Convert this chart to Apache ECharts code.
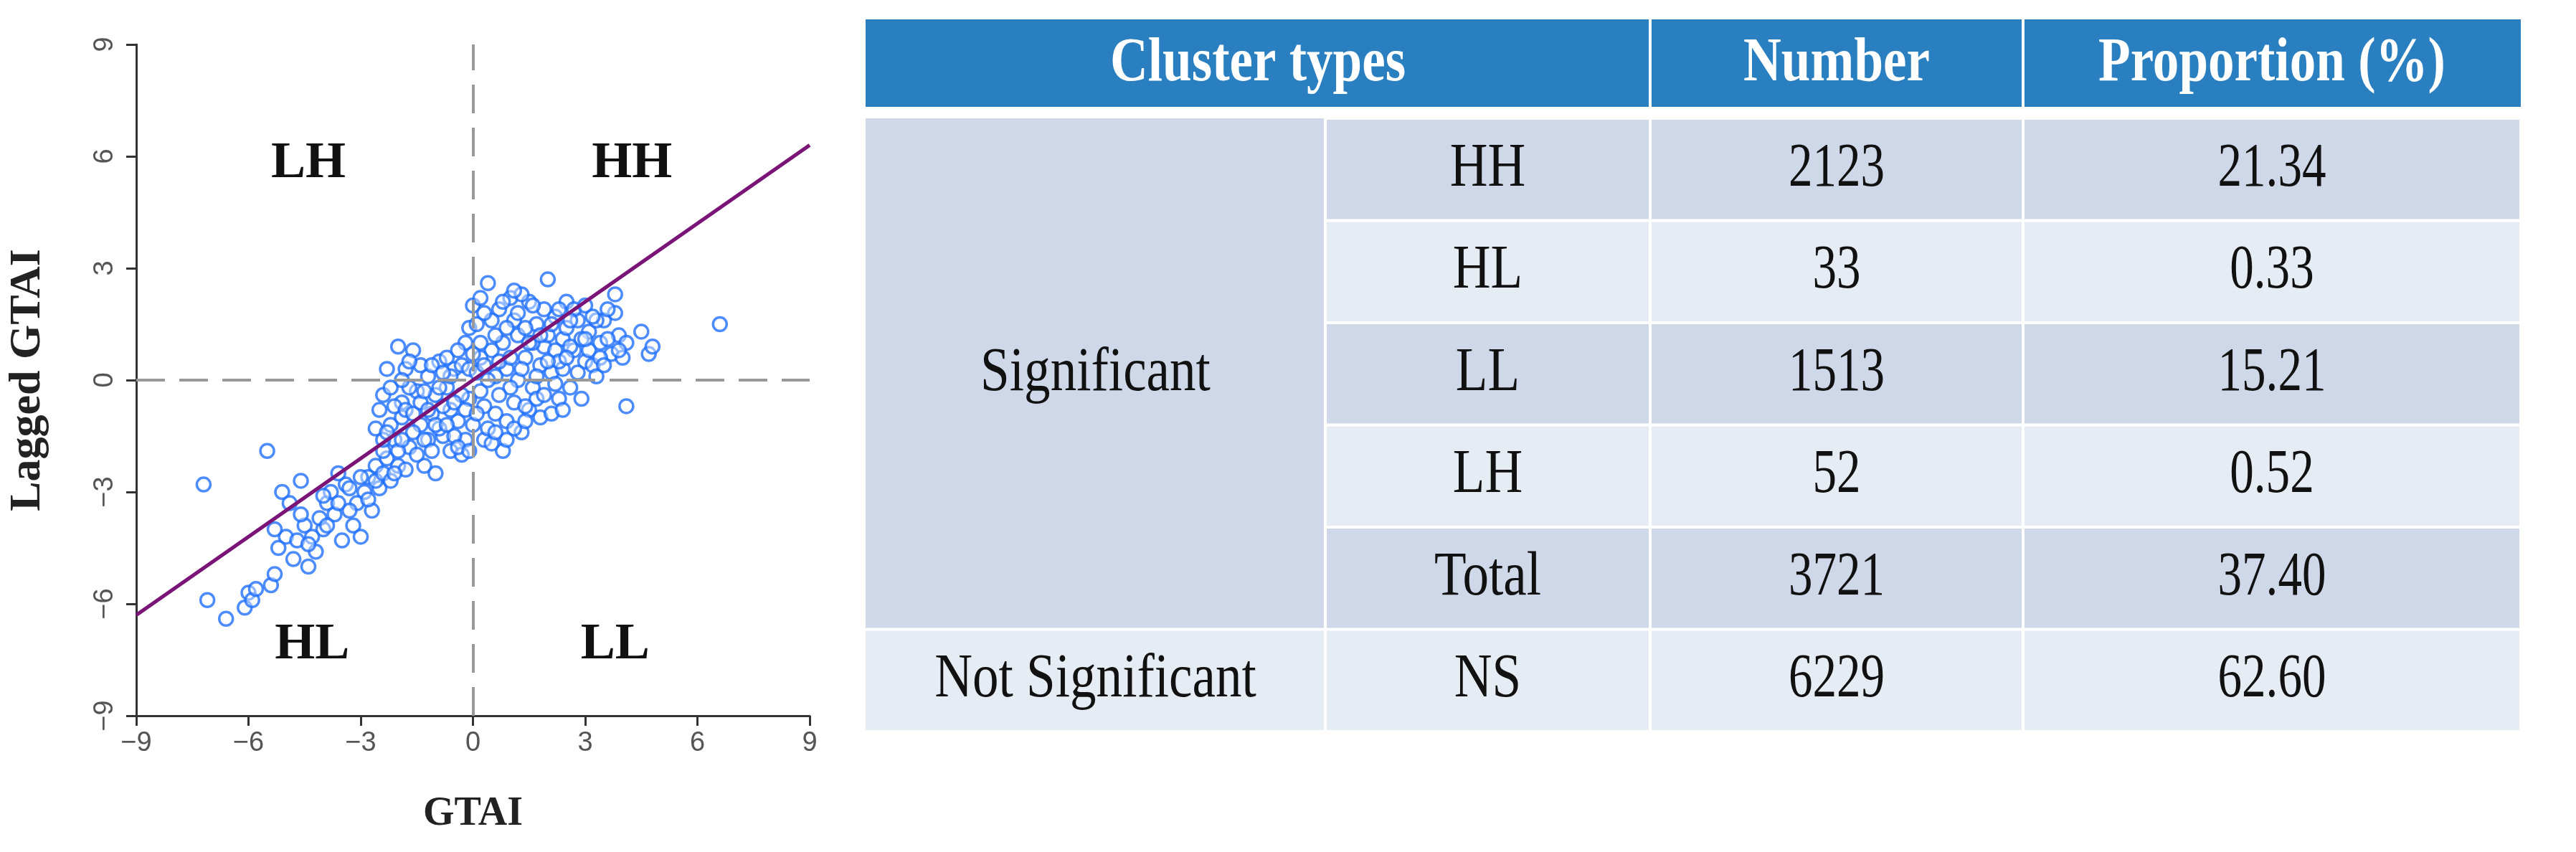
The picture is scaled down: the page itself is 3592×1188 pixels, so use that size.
<!DOCTYPE html>
<html><head><meta charset="utf-8">
<script src="https://cdn.jsdelivr.net/npm/echarts@6/dist/echarts.min.js"></script>
<style>html,body{margin:0;padding:0;background:#fff}#c{width:3592px;height:1188px}</style>
</head><body><div id="c"></div>
<script>
const points = [
[-7.2,-2.8],[-7.1,-5.9],[-6.6,-6.4],[-6.1,-6.1],[-6.0,-5.7],[-5.9,-5.9],[-5.8,-5.6],[-5.5,-1.9],[-5.4,-5.5],[-5.3,-5.2],[-5.1,-3.0],[-5.0,-4.2],[-4.9,-3.3],[-4.7,-4.3],[-4.6,-2.7],[-4.5,-3.9],[-4.4,-5.0],[-4.2,-4.6],[-4.0,-4.0],[-3.9,-3.3],[-3.7,-3.6],[-3.5,-4.3],[-3.4,-2.8],[-3.2,-3.9],[-3.0,-4.2],[-2.9,-3.0],[-2.7,-3.5],[-2.6,-2.3],[-5.2,-4.5],[-4.8,-4.8],[-4.3,-4.2],[-3.8,-3.0],[-3.6,-2.5],[-3.1,-3.3],[-2.8,-2.6],[-5.3,-4.0],[-4.1,-3.7],[-3.3,-3.5],[-2.5,-2.9],
[-4.6,-3.6],[-4.0,-3.1],[-3.6,-3.3],[-3.3,-2.9],[-3.0,-2.6],[-2.8,-3.2],[-2.6,-2.7],[-2.4,-2.5],[-2.3,-2.1],[-2.2,-2.7],[-2.0,-2.3],[-1.8,-2.4],[-2.4,-1.9],[-2.1,-1.6],[-3.9,-3.9],[-4.4,-4.4],
[-2.4,-0.4],[-2.3,0.3],[-2.2,-1.2],[-2.1,-2.5],[-2.0,0.9],[-1.9,-0.6],[-1.8,0.3],[-1.7,-1.8],[-1.6,0.8],[-1.5,-0.3],[-1.4,-1.2],[-1.3,-2.3],[-1.2,0.1],[-1.1,-0.9],[-1.0,-2.5],[-0.9,0.5],[-0.8,-1.5],[-0.7,-0.2],[-0.6,-1.9],[-0.5,0.3],[-0.4,-1.1],[-0.3,-2.0],[-0.2,1.0],[-0.1,-0.5],[0.0,2.0],[0.0,-1.2],
[-2.4,-1.6],[-2.2,-0.2],[-2.0,-1.9],[-1.9,-1.0],[-1.7,-0.2],[-1.5,-2.0],[-1.4,0.4],[-1.2,-1.6],[-1.0,-0.4],[-0.9,-1.3],[-0.7,0.6],[-0.6,-0.8],[-0.4,0.8],[-0.3,-0.4],[-0.2,-1.6],[-0.1,1.4],[-2.6,-1.3],[-1.6,-1.4],[-1.1,0.4],[-0.5,-1.5],
[-2.5,-0.8],[-2.3,-1.4],[-2.1,-0.7],[-1.9,-1.6],[-1.8,-0.8],[-1.7,0.5],[-1.6,-0.9],[-1.4,-0.6],[-1.3,-1.6],[-1.2,-0.8],[-1.1,-1.9],[-1.0,-1.2],[-0.9,-0.2],[-0.8,-0.7],[-0.7,-1.2],[-0.6,0.1],[-0.5,-0.6],[-0.4,-1.8],[-0.3,0.4],[-0.2,-0.8],[-0.1,0.3],[-0.1,-1.9],[-0.8,0.2],[-1.3,-0.3],[-1.9,0.0],
[0.1,1.5],[0.2,-0.3],[0.3,-1.6],[0.4,2.6],[0.5,0.8],[0.6,-0.9],[0.7,1.9],[0.8,-1.9],[0.9,0.3],[1.0,2.2],[1.1,-0.6],[1.2,1.2],[1.3,-1.4],[1.4,0.6],[1.5,2.1],[1.6,-0.2],[1.7,1.5],[1.8,-1.0],[1.9,0.9],[2.0,2.7],[2.1,0.2],[2.2,1.7],[2.3,-0.5],[2.4,1.1],[2.5,2.1],[2.6,-0.2],[2.7,0.8],[2.8,1.6],[2.9,-0.5],[3.0,0.5],[3.1,1.3],[3.2,0.4],[3.4,1.0],[3.5,1.6],[3.7,0.7],[3.8,2.3],[3.9,1.2],[4.0,0.6],[4.1,-0.7],[4.5,1.3],[4.7,0.7],[4.8,0.9],[6.6,1.5],
[0.1,0.2],[0.2,1.0],[0.3,-0.7],[0.5,1.6],[0.6,0.1],[0.8,1.0],[0.9,-1.1],[1.1,1.6],[1.2,0.0],[1.3,2.3],[1.5,-0.8],[1.6,1.0],[1.8,0.4],[1.9,1.9],[2.1,-0.9],[2.2,0.8],[2.4,0.3],[2.5,1.4],[2.7,1.9],[2.9,1.1],[3.1,0.8],[3.3,1.6],[3.6,1.1],[3.8,1.8],[4.1,1.0],[0.4,-1.3],[0.7,0.5],[1.0,-0.2],[1.4,1.4],[1.7,-0.5],[2.0,1.2],[2.3,0.5],[2.6,0.9],[3.0,2.0],[3.4,0.6],
[0.1,-0.9],[0.2,0.6],[0.3,1.8],[0.4,0.0],[0.5,-1.7],[0.6,1.2],[0.7,-0.4],[0.8,2.1],[0.9,1.4],[1.0,0.6],[1.1,-1.3],[1.2,1.8],[1.3,0.3],[1.4,-0.7],[1.5,1.0],[1.6,2.0],[1.7,0.1],[1.8,1.2],[1.9,-0.4],[2.0,0.5],[2.1,1.5],[2.2,-0.1],[2.3,1.9],[2.4,-0.8],[2.5,0.6],[2.6,1.6],[2.8,0.2],[3.0,1.1],[3.2,1.7],[3.3,0.1],[3.5,0.4],[3.6,1.9],[3.9,0.8],[0.2,2.2],[0.9,-1.6],[1.1,2.4],[0.0,0.7],[0.3,0.4],[1.4,-1.1],[0.6,-1.4]
];
const regression = [[-9,-6.3],[9,6.3]];
const quadLabels = [{name:'LH',coord:[-4.4,5.8]},{name:'HH',coord:[4.25,5.8]},{name:'HL',coord:[-4.3,-7.1]},{name:'LL',coord:[3.8,-7.1]}];

const headers = ['Cluster types','Number','Proportion (%)'];
const groups = ['Significant','Significant','Significant','Significant','Significant','Not Significant'];
const types = ['HH','HL','LL','LH','Total','NS'];
const numbers = ['2123','33','1513','52','3721','6229'];
const proportions = ['21.34','0.33','15.21','0.52','37.40','62.60'];

const colX = [1207,1848,2301,2821,3515];
const headTop = 27, headBot = 149, bodyTop = 165, rowH = 142.5;
const dark = '#cfd8e8', light = '#e6ecf4', headC = '#2a7fc0';
const tf = '"Liberation Serif", serif';
const g = [];
function txt(x,y,s,font,color,sx){
  g.push({type:'text',x:x,y:y,scaleX:sx||0.8,style:{text:s,fill:color,font:font,align:'center',verticalAlign:'middle'}});
}
g.push({type:'rect',shape:{x:colX[0],y:headTop,width:colX[4]-colX[0],height:headBot-headTop},style:{fill:headC}});
const hx=[[colX[0],colX[2]],[colX[2],colX[3]],[colX[3],colX[4]]];
headers.forEach((h,i)=>{
  if(i>0) g.push({type:'rect',shape:{x:hx[i][0]-2,y:headTop,width:4,height:headBot-headTop},style:{fill:'#fff'}});
  txt((hx[i][0]+hx[i][1])/2,(headTop+headBot)/2+2,h,'bold 86px '+tf,'#fff',0.85);
});
g.push({type:'rect',shape:{x:colX[0],y:bodyTop,width:colX[1]-colX[0]-2,height:rowH*5-2},style:{fill:dark}});
txt((colX[0]+colX[1])/2,bodyTop+rowH*2.5,groups[0],'86px '+tf,'#111',0.85);
g.push({type:'rect',shape:{x:colX[0],y:bodyTop+rowH*5+2,width:colX[1]-colX[0]-2,height:rowH-4},style:{fill:light}});
txt((colX[0]+colX[1])/2,bodyTop+rowH*5.5,groups[5],'86px '+tf,'#111',0.85);
types.forEach((t,r)=>{
  const y=bodyTop+rowH*r;
  const fill = r%2===0?dark:light;
  const vals=[t,numbers[r],proportions[r]];
  for(let c=1;c<4;c++){
    g.push({type:'rect',shape:{x:colX[c]+2,y:y+2,width:colX[c+1]-colX[c]-4,height:rowH-4},style:{fill:fill}});
    txt((colX[c]+colX[c+1])/2,y+rowH/2,vals[c-1],'86px '+tf,'#111',c===1?0.85:0.78);
  }
});

const chart = echarts.init(document.getElementById('c'));
chart.setOption({
  backgroundColor:'#fff',
  animation:false,
  grid:{left:190,top:62,width:939,height:936},
  xAxis:{type:'value',min:-9,max:9,interval:3,name:'GTAI',nameLocation:'middle',nameGap:110,
    nameTextStyle:{fontFamily:tf,fontWeight:'bold',fontSize:56,color:'#222'},
    axisLine:{onZero:false,lineStyle:{color:'#333',width:3}},axisTick:{length:14,lineStyle:{color:'#333',width:3}},
    axisLabel:{fontSize:38,color:'#555',margin:20,fontFamily:'"Liberation Sans"',formatter:v=>String(v).replace('-','\u2212')},splitLine:{show:false}},
  yAxis:{type:'value',min:-9,max:9,interval:3,name:'Lagged GTAI',nameLocation:'middle',nameGap:120,
    nameTextStyle:{fontFamily:tf,fontWeight:'bold',fontSize:62,color:'#222'},
    axisLine:{onZero:false,lineStyle:{color:'#333',width:3}},axisTick:{length:14,lineStyle:{color:'#333',width:3}},
    axisLabel:{fontSize:38,color:'#555',margin:24,rotate:90,fontFamily:'"Liberation Sans"',formatter:v=>String(v).replace('-','\u2212')},splitLine:{show:false}},
  series:[
    {type:'scatter',data:points,symbol:'circle',symbolSize:19,itemStyle:{color:'rgba(255,255,255,0.5)',borderColor:'#1f6fff',borderWidth:3.5},
     markLine:{silent:true,symbol:'none',label:{show:false},lineStyle:{color:'#999',type:[40,20],width:4},data:[{xAxis:0},{yAxis:0}]},
     markPoint:{symbol:'circle',symbolSize:1,itemStyle:{color:'transparent'},label:{show:true,position:'inside',formatter:p=>p.name,fontFamily:tf,fontWeight:'bold',fontSize:72,color:'#111'},data:quadLabels}},
    {type:'line',data:regression,symbol:'none',lineStyle:{color:'#7a1477',width:5},z:3}
  ],
  graphic:g
});
</script></body></html>
